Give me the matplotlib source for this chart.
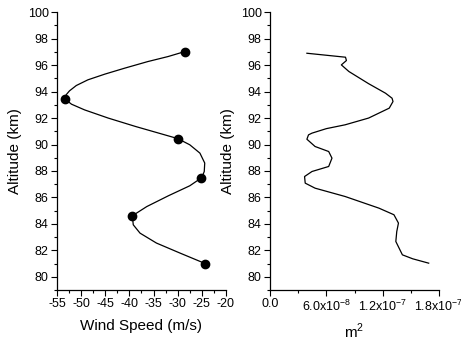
#!/usr/bin/env python3
#
# Wind speed and m^2 altitude profiles
#
import numpy as np
import matplotlib
matplotlib.use('Agg')
import matplotlib.pyplot as plt
from matplotlib.ticker import MultipleLocator, FixedLocator, FixedFormatter

plt.rcParams['font.family'] = ['Liberation Sans', 'DejaVu Sans']
plt.rcParams['mathtext.fontset'] = 'custom'
plt.rcParams['mathtext.rm'] = 'Liberation Sans'
plt.rcParams['axes.unicode_minus'] = False

# Wind speed measurements (markers)
wind_alt = [97.03, 93.43, 90.43, 87.5, 84.6, 81.0]
wind_speed = [-28.5, -53.3, -29.9, -25.1, -39.4, -24.3]

wind_curve_alt = [97.03, 96.65, 96.27, 95.77, 95.32, 94.89, 94.46, 94.06,
                  93.76, 93.43, 93.05, 92.62, 92.0, 91.36, 90.9, 90.45,
                  89.98, 89.35, 88.6, 87.96, 87.5, 86.88, 86.13, 85.31,
                  84.61, 83.93, 83.3, 82.55, 81.79, 81.0]
wind_curve = [-28.5, -32.0, -36.2, -41.0, -45.1, -48.6, -51.0, -52.4,
              -53.1, -53.3, -52.0, -49.3, -44.4, -38.7, -34.3, -30.0,
              -27.5, -25.4, -24.4, -24.5, -25.0, -27.5, -31.9, -36.4,
              -39.4, -39.2, -37.8, -34.4, -29.5, -24.3]

# m^2 profile
m2_alt = [96.9, 96.6, 96.35, 96.02, 95.52, 94.6, 93.88, 93.5, 93.25, 92.75,
          92.0, 91.49, 91.2, 90.86, 90.73, 90.4, 89.85, 89.47, 88.97, 88.34,
          87.96, 87.58, 87.08, 86.7, 86.07, 85.19, 84.69, 84.06, 83.42, 82.67,
          81.66, 81.36, 81.03]
m2 = np.array([3.93, 8.04, 8.14, 7.6, 8.4, 10.5, 12.3, 13.0, 13.1, 12.7,
               10.5, 8.0, 6.0, 4.47, 4.1, 3.93, 4.8, 6.25, 6.6, 6.25,
               4.47, 3.68, 3.75, 4.8, 8.0, 11.6, 13.2, 13.68, 13.5, 13.4,
               14.1, 15.2, 16.9]) * 1e-8

m2_ticks = [0.0, 6e-8, 1.2e-7, 1.8e-7]
m2_ticklabels = ['0.0', r'6.0x10$^{\mathregular{-8}}$',
                 r'1.2x10$^{\mathregular{-7}}$', r'1.8x10$^{\mathregular{-7}}$']

fig = plt.figure(figsize=(4.61, 3.40), dpi=100)
ax1 = fig.add_axes([0.1236, 0.147, 0.3666, 0.817])
ax2 = fig.add_axes([0.5857, 0.147, 0.3666, 0.817])

for ax in (ax1, ax2):
    for s in ('top', 'right'):
        ax.spines[s].set_visible(False)
    for s in ('left', 'bottom'):
        ax.spines[s].set_linewidth(0.9)
    ax.set_ylim(79, 100)
    ax.yaxis.set_major_locator(MultipleLocator(2))
    ax.yaxis.set_minor_locator(MultipleLocator(1))
    ax.tick_params(which='major', direction='out', length=4, width=0.8,
                   labelsize=9, pad=2)
    ax.tick_params(which='minor', direction='out', length=2.2, width=0.8)
    ax.set_ylabel('Altitude (km)', fontsize=11, labelpad=4)

#
# Wind speed
#
ax1.plot(wind_curve, wind_curve_alt, '-', color='k', lw=0.9,
         solid_joinstyle='round')
ax1.plot(wind_speed, wind_alt, 'o', color='k', ms=6)
ax1.set_xlim(-55, -20)
ax1.xaxis.set_major_locator(MultipleLocator(5))
ax1.xaxis.set_minor_locator(MultipleLocator(2.5))
ax1.set_xlabel('Wind Speed (m/s)', fontsize=11, labelpad=6)

#
# m^2
#
ax2.plot(m2, m2_alt, '-', color='k', lw=0.9, solid_joinstyle='round')
ax2.set_xlim(0, 1.8e-7)
ax2.xaxis.set_major_locator(FixedLocator(m2_ticks))
ax2.xaxis.set_major_formatter(FixedFormatter(m2_ticklabels))
ax2.xaxis.set_minor_locator(MultipleLocator(3e-8))
ax2.set_xlabel(r'm$^{\mathregular{2}}$', fontsize=11, labelpad=6)

fig.savefig('out.png', dpi=100)
